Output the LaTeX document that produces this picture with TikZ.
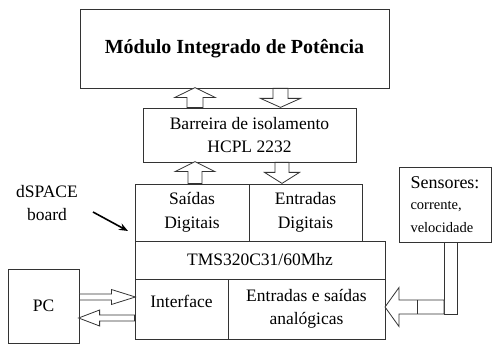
\documentclass[tikz,border=0pt]{standalone}
\usepackage{fontspec}
\setmainfont{Liberation Serif}
\usetikzlibrary{calc,arrows.meta}

\newcommand{\txt}{\fontsize{17.5}{22.5}\selectfont}
\newcommand{\smalltxt}{\fontsize{14.5}{17.5}\selectfont}

% hollow block arrow: #1 start point, #2 direction angle, #3 length,
% #4 half shaft width, #5 half head width, #6 head length
\newcommand{\blockarr}[6]{%
  \begin{scope}[shift={(#1)}, rotate=#2]
    \draw[hollow] (0,-#4) -- (#3-#6,-#4) -- (#3-#6,-#5) -- (#3,0)
      -- (#3-#6,#5) -- (#3-#6,#4) -- (0,#4) -- cycle;
  \end{scope}}

\tikzset{
  cell/.style={draw=black!80, line width=0.8pt, inner sep=0pt,
    align=center, font=\txt},
  hollow/.style={draw=black!80, line width=0.8pt, fill=white},
  pointer/.style={-{Stealth[length=9pt,width=7pt]}, line width=1.6pt, black},
}

\begin{document}
\begin{tikzpicture}[x=1pt, y=-1pt]
  \useasboundingbox (0,0) rectangle (495,344);

  % power module and isolation barrier
  \node[cell, minimum width=309, minimum height=79,
        font=\bfseries\fontsize{20}{24}\selectfont]
    (mod) at (234.5,48.5) {Módulo Integrado de Potência};
  \node[cell, minimum width=213, minimum height=54]
    (bar) at (249.5,135) {Barreira de isolamento\\HCPL 2232};

  % dSPACE board
  \node[cell, minimum width=114, minimum height=57]
    (sd) at (192,212.5) {Saídas\\[1pt]Digitais};
  \node[cell, minimum width=113, minimum height=57]
    (ed) at (305.5,212.5) {Entradas\\[1pt]Digitais};
  \node[cell, minimum width=250, minimum height=38]
    (tms) at (260,260) {TMS320C31/60Mhz};
  \node[cell, minimum width=93, minimum height=60]
    (intf) at (181.5,309) {Interface\\[-8pt]\mbox{}};
  \node[cell, minimum width=157, minimum height=60]
    (an) at (306.5,309) {Entradas e saídas\\analógicas};

  % host PC and sensors
  \node[cell, minimum width=71, minimum height=74]
    (pc) at (43.5,306) {PC};
  \node[cell, minimum width=92, minimum height=75, align=left]
    (sens) at (445,204.5)
    {{\fontsize{18}{20}\selectfont Sensores:}\\[-1pt]
     {\smalltxt corrente,}\\[0pt]{\smalltxt velocidade}};

  \node[font=\txt, align=center] (lbl) at (47,203) {dSPACE\\board};
  \coordinate (pfrom) at (93,212);
  \coordinate (pto) at (128,231);
  \draw[pointer] (pfrom) -- (pto);

  % block arrows between the layers
  \blockarr{195,0 |- bar.north}{90}{20}{8}{20.5}{10}
  \blockarr{280.5,0 |- mod.south}{-90}{19}{7.5}{20}{9}
  \blockarr{195,0 |- sd.north}{90}{22}{7}{20}{10}
  \blockarr{282,0 |- bar.south}{-90}{21}{7}{17.5}{11}

  % PC link
  \blockarr{pc.east |- 0,297}{0}{56}{3}{7.5}{24}
  \blockarr{intf.west |- 0,318}{180}{56}{3}{8}{21}

  % sensor line into the analogue inputs
  \draw[hollow] (444,0 |- sens.south) rectangle (457,314);
  \blockarr{444,307}{180}{59}{7}{19.5}{14}
  \draw[draw=black!80, line width=0.8pt] (417,300) -- (417,314);
\end{tikzpicture}
\end{document}
